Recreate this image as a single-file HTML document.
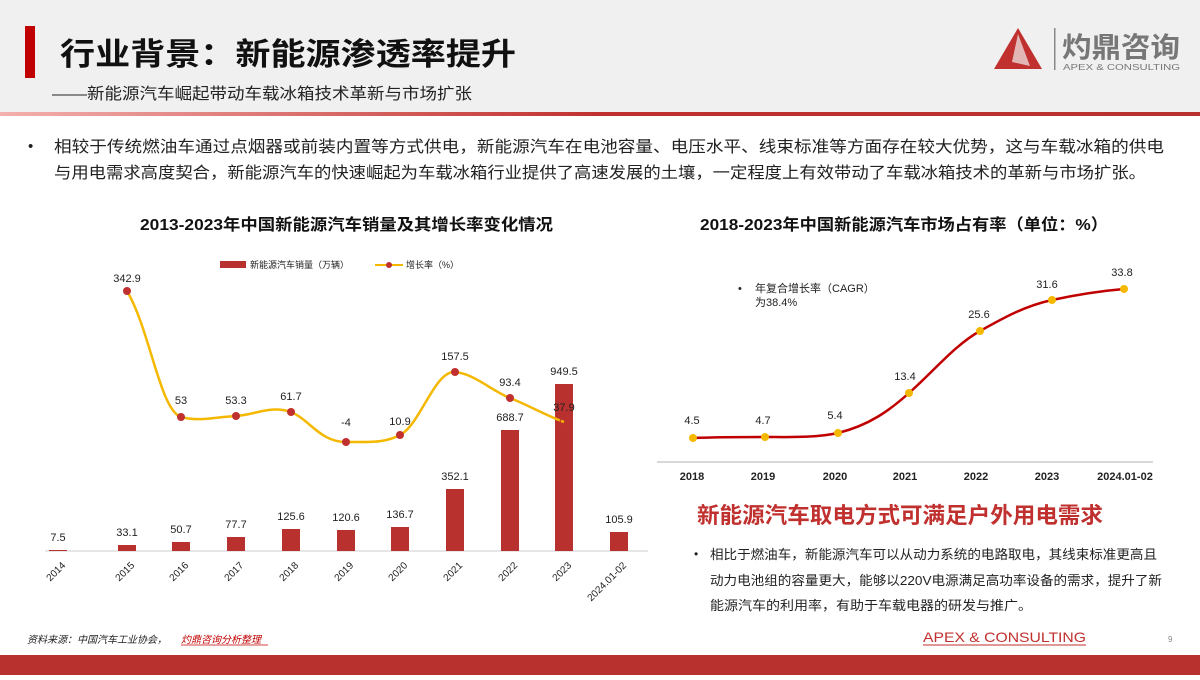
<!DOCTYPE html>
<html><head><meta charset="utf-8"><style>
body{margin:0;width:1200px;height:675px;overflow:hidden;background:#fff;font-family:"Liberation Sans","Noto Sans CJK SC",sans-serif}
svg text{font-family:"Liberation Sans","Noto Sans CJK SC",sans-serif}
</style></head><body>
<svg width="1200" height="675" viewBox="0 0 1200 675" xmlns="http://www.w3.org/2000/svg">
<defs><linearGradient id="g" x1="0" x2="1"><stop offset="0" stop-color="#f3b0ae"/><stop offset="0.5" stop-color="#c0302e"/><stop offset="1" stop-color="#b8312f"/></linearGradient></defs>
<rect x="0" y="0" width="1200" height="113" fill="#f0f0f0"/>
<rect x="0" y="112" width="1200" height="4" fill="url(#g)"/>
<rect x="25" y="26" width="10" height="52" fill="#c00000"/>
<text x="60" y="65" font-size="31" font-weight="bold" fill="#111" textLength="456" lengthAdjust="spacingAndGlyphs">行业背景：新能源渗透率提升</text>
<text x="52" y="99" font-size="16" fill="#222" textLength="420" lengthAdjust="spacingAndGlyphs">——新能源汽车崛起带动车载冰箱技术革新与市场扩张</text>
<polygon points="1018,28 994,69 1042,69" fill="#c0302e"/>
<polygon points="1018,34 1012,62 1030,66" fill="#f0f0f0" opacity="0.7"/>
<rect x="1054" y="28" width="1.5" height="42" fill="#888"/>
<text x="1062" y="57" font-size="28" font-weight="bold" fill="#777" textLength="118" lengthAdjust="spacingAndGlyphs">灼鼎咨询</text>
<text x="1063" y="70" font-size="8" fill="#777" textLength="117" lengthAdjust="spacingAndGlyphs">APEX &amp; CONSULTING</text>

<text x="28" y="151" font-size="15" fill="#222">•</text>
<text x="54" y="152" font-size="16" fill="#222" textLength="1110" lengthAdjust="spacingAndGlyphs">相较于传统燃油车通过点烟器或前装内置等方式供电，新能源汽车在电池容量、电压水平、线束标准等方面存在较大优势，这与车载冰箱的供电</text>
<text x="54" y="178" font-size="16" fill="#222" textLength="1092" lengthAdjust="spacingAndGlyphs">与用电需求高度契合，新能源汽车的快速崛起为车载冰箱行业提供了高速发展的土壤，一定程度上有效带动了车载冰箱技术的革新与市场扩张。</text>

<text x="140" y="230" font-size="16" font-weight="bold" fill="#111" textLength="413" lengthAdjust="spacingAndGlyphs">2013-2023年中国新能源汽车销量及其增长率变化情况</text>
<rect x="220" y="261" width="26" height="7" fill="#b8312f"/>
<text x="250" y="268" font-size="9" fill="#222">新能源汽车销量（万辆）</text>
<line x1="375" y1="265" x2="403" y2="265" stroke="#f5b800" stroke-width="2"/>
<circle cx="389" cy="265" r="3" fill="#c0302e"/>
<text x="406" y="268" font-size="9" fill="#222">增长率（%）</text>

<line x1="45" y1="551" x2="648" y2="551" stroke="#ccc" stroke-width="1"/>
<g fill="#b8312f">
<rect x="49" y="550" width="18" height="1"/>
<rect x="118" y="545" width="18" height="6"/>
<rect x="172" y="542" width="18" height="9"/>
<rect x="227" y="537" width="18" height="14"/>
<rect x="282" y="529" width="18" height="22"/>
<rect x="337" y="530" width="18" height="21"/>
<rect x="391" y="527" width="18" height="24"/>
<rect x="446" y="489" width="18" height="62"/>
<rect x="501" y="430" width="18" height="121"/>
<rect x="555" y="384" width="18" height="167"/>
<rect x="610" y="532" width="18" height="19"/>
</g>
<g font-size="11" fill="#222" text-anchor="middle">
<text x="58" y="541">7.5</text><text x="127" y="536">33.1</text><text x="181" y="533">50.7</text><text x="236" y="528">77.7</text><text x="291" y="520">125.6</text><text x="346" y="521">120.6</text><text x="400" y="518">136.7</text><text x="455" y="480">352.1</text><text x="510" y="421">688.7</text><text x="564" y="375">949.5</text><text x="619" y="523">105.9</text>
</g>
<path d="M127,291 C150,330 160,410 181,417 C200,422 215,417 236,416 C255,415 270,405 291,412 C310,420 320,442 346,442 C370,442 385,443 400,435 C420,425 435,370 455,372 C475,374 490,390 510,398 C530,406 545,415 564,422" fill="none" stroke="#f5b800" stroke-width="2.5"/>
<g fill="#c0302e">
<circle cx="127" cy="291" r="4"/><circle cx="181" cy="417" r="4"/><circle cx="236" cy="416" r="4"/><circle cx="291" cy="412" r="4"/><circle cx="346" cy="442" r="4"/><circle cx="400" cy="435" r="4"/><circle cx="455" cy="372" r="4"/><circle cx="510" cy="398" r="4"/>
</g>
<circle cx="564" cy="422" r="4" fill="none" stroke="#c0302e" stroke-width="1.2"/>
<g font-size="11" fill="#222" text-anchor="middle">
<text x="127" y="282">342.9</text><text x="181" y="404">53</text><text x="236" y="404">53.3</text><text x="291" y="400">61.7</text><text x="346" y="426">-4</text><text x="400" y="425">10.9</text><text x="455" y="360">157.5</text><text x="510" y="386">93.4</text><text x="564" y="411">37.9</text>
</g>
<g font-size="10" fill="#222" text-anchor="end">
<text transform="translate(66,566) rotate(-45)">2014</text>
<text transform="translate(135,566) rotate(-45)">2015</text>
<text transform="translate(189,566) rotate(-45)">2016</text>
<text transform="translate(244,566) rotate(-45)">2017</text>
<text transform="translate(299,566) rotate(-45)">2018</text>
<text transform="translate(354,566) rotate(-45)">2019</text>
<text transform="translate(408,566) rotate(-45)">2020</text>
<text transform="translate(463,566) rotate(-45)">2021</text>
<text transform="translate(518,566) rotate(-45)">2022</text>
<text transform="translate(572,566) rotate(-45)">2023</text>
<text transform="translate(627,566) rotate(-45)">2024.01-02</text>
</g>

<text x="700" y="230" font-size="16" font-weight="bold" fill="#111" textLength="408" lengthAdjust="spacingAndGlyphs">2018-2023年中国新能源汽车市场占有率（单位：%）</text>
<text x="738" y="292" font-size="11" fill="#222">•</text>
<text x="755" y="292" font-size="11" fill="#222">年复合增长率（CAGR）</text>
<text x="755" y="306" font-size="11" fill="#222">为38.4%</text>
<line x1="657" y1="462" x2="1153" y2="462" stroke="#ccc" stroke-width="1.5"/>
<path d="M693,438 C720,437 740,437 765,437 C790,437 815,438 838,433 C870,425 890,410 909,393 C935,370 955,345 980,331 C1005,317 1025,306 1052,300 C1080,294 1100,291 1124,289" fill="none" stroke="#c00000" stroke-width="2.5"/>
<g fill="#f5b800">
<circle cx="693" cy="438" r="4"/><circle cx="765" cy="437" r="4"/><circle cx="838" cy="433" r="4"/><circle cx="909" cy="393" r="4"/><circle cx="980" cy="331" r="4"/><circle cx="1052" cy="300" r="4"/><circle cx="1124" cy="289" r="4"/>
</g>
<g font-size="11" fill="#222" text-anchor="middle">
<text x="692" y="424">4.5</text><text x="763" y="424">4.7</text><text x="835" y="419">5.4</text><text x="905" y="380">13.4</text><text x="979" y="318">25.6</text><text x="1047" y="288">31.6</text><text x="1122" y="276">33.8</text>
</g>
<g font-size="11" fill="#222" text-anchor="middle" font-weight="bold">
<text x="692" y="480">2018</text><text x="763" y="480">2019</text><text x="835" y="480">2020</text><text x="905" y="480">2021</text><text x="976" y="480">2022</text><text x="1047" y="480">2023</text><text x="1125" y="480">2024.01-02</text>
</g>

<text x="697" y="523" font-size="22" font-weight="bold" fill="#c0302e" textLength="406" lengthAdjust="spacingAndGlyphs">新能源汽车取电方式可满足户外用电需求</text>
<text x="694" y="558" font-size="12" fill="#222">•</text>
<text x="710" y="559" font-size="13" fill="#222" textLength="447" lengthAdjust="spacingAndGlyphs">相比于燃油车，新能源汽车可以从动力系统的电路取电，其线束标准更高且</text>
<text x="710" y="585" font-size="13" fill="#222" textLength="452" lengthAdjust="spacingAndGlyphs">动力电池组的容量更大，能够以220V电源满足高功率设备的需求，提升了新</text>
<text x="710" y="610" font-size="13" fill="#222" textLength="322" lengthAdjust="spacingAndGlyphs">能源汽车的利用率，有助于车载电器的研发与推广。</text>

<text x="27" y="643" font-size="10" font-style="italic" fill="#222">资料来源：中国汽车工业协会，</text>
<text x="181" y="643" font-size="10" font-style="italic" fill="#c00000">灼鼎咨询分析整理</text>
<line x1="181" y1="645" x2="268" y2="645" stroke="#c00000" stroke-width="0.8"/>
<text x="923" y="642" font-size="14" fill="#c0302e" textLength="163" lengthAdjust="spacingAndGlyphs">APEX &amp; CONSULTING</text>
<line x1="923" y1="645" x2="1086" y2="645" stroke="#c0302e" stroke-width="1"/>
<text x="1168" y="642" font-size="8" fill="#888">9</text>
<rect x="0" y="655" width="1200" height="20" fill="#b8312f"/>
</svg>
</body></html>
